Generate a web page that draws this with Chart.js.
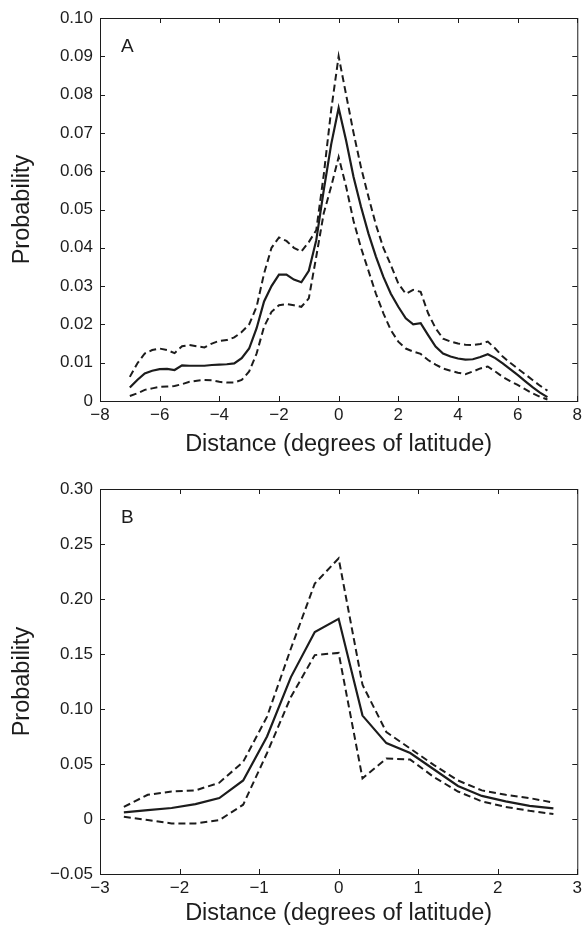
<!DOCTYPE html>
<html>
<head>
<meta charset="utf-8">
<script src="https://cdn.jsdelivr.net/npm/chart.js@4/dist/chart.umd.min.js"></script>
<style>
  body { margin: 0; background: #fff; }
  #wrapA { position: absolute; left: 0; top: 0; width: 586px; height: 460px; }
  #wrapB { position: absolute; left: 0; top: 460px; width: 586px; height: 469px; }
</style>
</head>
<body>
<div id="wrapA"><canvas id="chartA"></canvas></div>
<div id="wrapB"><canvas id="chartB"></canvas></div>
<script>
// panel A: distance in degrees of latitude, step 0.25
const xA = [-7,-6.75,-6.5,-6.25,-6,-5.75,-5.5,-5.25,-5,-4.75,-4.5,-4.25,-4,-3.75,-3.5,-3.25,-3,-2.75,-2.5,-2.25,-2,-1.75,-1.5,-1.25,-1,-0.75,-0.5,-0.25,0,
  0.25,0.5,0.75,1,1.25,1.5,1.75,2,2.25,2.5,2.75,3,3.25,3.5,3.75,4,4.25,4.5,4.75,5,5.25,5.5,5.75,6,6.25,6.5,6.75,7];
const meanA = [.0035,.0055,.0072,.0079,.0083,.0084,.0081,.0093,.0092,.0092,.0092,.0094,.0095,.0096,.0098,.0112,.0137,.0190,.0260,.0300,.0330,.0330,.0317,.0310,.0340,.0420,.0550,.0670,.0765,
  .0680,.0585,.0507,.0437,.0377,.0324,.0280,.0246,.0216,.0200,.0203,.0172,.0142,.0124,.0116,.0111,.0108,.0109,.0115,.0122,.0112,.0098,.0083,.0068,.0052,.0036,.0022,.0010];
const upperA = [.0063,.0098,.0124,.0133,.0137,.0133,.0125,.0143,.0146,.0143,.0140,.0150,.0157,.0159,.0166,.0180,.0200,.0246,.0333,.0400,.0427,.0418,.0400,.0390,.0415,.0446,.0590,.0760,.0900,
  .0800,.0700,.0610,.0533,.0460,.0400,.0355,.0307,.0280,.0290,.0285,.0229,.0190,.0163,.0155,.0150,.0147,.0146,.0149,.0155,.0137,.0116,.0100,.0085,.0070,.0055,.0040,.0027];
const lowerA = [.0013,.0020,.0029,.0033,.0037,.0038,.0039,.0044,.0050,.0053,.0055,.0054,.0050,.0048,.0048,.0055,.0077,.0124,.0194,.0233,.0250,.0253,.0250,.0246,.0268,.0377,.0490,.0560,.0637,
  .0560,.0470,.0400,.0340,.0280,.0229,.0185,.0155,.0137,.0129,.0123,.0107,.0095,.0085,.0079,.0074,.0070,.0077,.0085,.0090,.0077,.0063,.0052,.0042,.0031,.0020,.0011,.0004];

// panel B: step 0.3
const xB = [-2.7,-2.4,-2.1,-1.8,-1.5,-1.2,-0.9,-0.6,-0.3,0,0.3,0.6,0.9,1.2,1.5,1.8,2.1,2.4,2.7];
const meanB = [.006,.008,.010,.0135,.019,.035,.075,.129,.170,.182,.094,.069,.060,.045,.030,.021,.016,.012,.0097];
const upperB = [.011,.022,.025,.026,.033,.052,.093,.155,.214,.237,.122,.079,.064,.049,.035,.026,.022,.019,.015];
const lowerB = [.002,-.001,-.004,-.004,-.001,.013,.060,.111,.149,.151,.037,.055,.054,.038,.025,.016,.011,.0075,.0045];

const xTicksA = [-8, 8, 2];
const yTicksA = [0, 0.10, 0.01];
const xTicksB = [-3, 3, 1];
const yTicksB = [-0.05, 0.30, 0.05];

const FONT = "'Liberation Sans', Arial, Helvetica, sans-serif";
const INK = '#1c1c1c';

function minus(s) { return s.replace('-', '\u2212'); }

// box around the plot, inward ticks on all four sides, panel letter
const boxPlugin = {
  id: 'matlabBox',
  afterDatasetsDraw(chart, args, opts) {
    const { ctx, chartArea: a, scales } = chart;
    ctx.save();
    ctx.strokeStyle = INK;
    ctx.lineWidth = 1;
    ctx.strokeRect(a.left + 0.5, a.top + 0.5, a.right - a.left, a.bottom - a.top);
    const len = 5;
    ctx.beginPath();
    scales.x.ticks.forEach(t => {
      const px = Math.round(scales.x.getPixelForValue(t.value)) + 0.5;
      ctx.moveTo(px, a.bottom); ctx.lineTo(px, a.bottom - len);
      ctx.moveTo(px, a.top); ctx.lineTo(px, a.top + len);
    });
    scales.y.ticks.forEach(t => {
      const py = Math.round(scales.y.getPixelForValue(t.value)) + 0.5;
      ctx.moveTo(a.left, py); ctx.lineTo(a.left + len, py);
      ctx.moveTo(a.right, py); ctx.lineTo(a.right - len, py);
    });
    ctx.stroke();
    ctx.fillStyle = INK;
    ctx.font = '19px ' + FONT;
    ctx.textAlign = 'left';
    ctx.textBaseline = 'alphabetic';
    ctx.fillText(opts.letter, a.left + 21, a.top + 34);
    ctx.restore();
  }
};

function series(xs, ys) { return xs.map((x, i) => ({ x: x, y: ys[i] })); }

function makeChart(id, xs, mean, upper, lower, xT, yT, yDigits, xAxisH, topPad, titlePad, letter) {
  const dashed = { borderColor: INK, borderWidth: 2, borderDash: [7, 4], pointRadius: 0, tension: 0, fill: false };
  return new Chart(document.getElementById(id), {
    type: 'line',
    data: {
      datasets: [
        Object.assign({ label: 'upper', data: series(xs, upper) }, dashed),
        { label: 'mean', data: series(xs, mean), borderColor: INK, borderWidth: 2.2, pointRadius: 0, tension: 0, fill: false },
        Object.assign({ label: 'lower', data: series(xs, lower) }, dashed)
      ]
    },
    options: {
      responsive: true,
      maintainAspectRatio: false,
      animation: false,
      layout: { padding: { left: 0, right: 5, top: topPad, bottom: 0 } },
      plugins: { legend: { display: false }, tooltip: { enabled: false }, matlabBox: { letter: letter } },
      scales: {
        x: {
          type: 'linear', min: xT[0], max: xT[1],
          grid: { display: false, drawTicks: false }, border: { display: false },
          ticks: { stepSize: xT[2], autoSkip: false, maxRotation: 0, padding: 4, color: INK,
            font: { family: FONT, size: 17 },
            callback: v => minus(String(Math.round(v))) },
          title: { display: true, text: 'Distance (degrees of latitude)', color: INK,
            font: { family: FONT, size: 23.5 }, padding: { top: 0, bottom: titlePad } },
          afterFit: s => { s.height = xAxisH; }
        },
        y: {
          type: 'linear', min: yT[0], max: yT[1],
          grid: { display: false, drawTicks: false }, border: { display: false },
          ticks: { stepSize: yT[2], padding: 7, color: INK,
            font: { family: FONT, size: 17 },
            callback: v => Math.abs(v) < 1e-9 ? '0' : minus(v.toFixed(yDigits)) },
          title: { display: true, text: 'Probability', color: INK,
            font: { family: FONT, size: 23.5 }, padding: { top: 8, bottom: 0 } },
          afterFit: s => { s.width = 100; }
        }
      }
    },
    plugins: [boxPlugin]
  });
}

makeChart('chartA', xA, meanA, upperA, lowerA, xTicksA, yTicksA, 2, 59, 18, 1, 'A');
makeChart('chartB', xB, meanB, upperB, lowerB, xTicksB, yTicksB, 2, 55, 29, 1, 'B');
</script>
</body>
</html>
